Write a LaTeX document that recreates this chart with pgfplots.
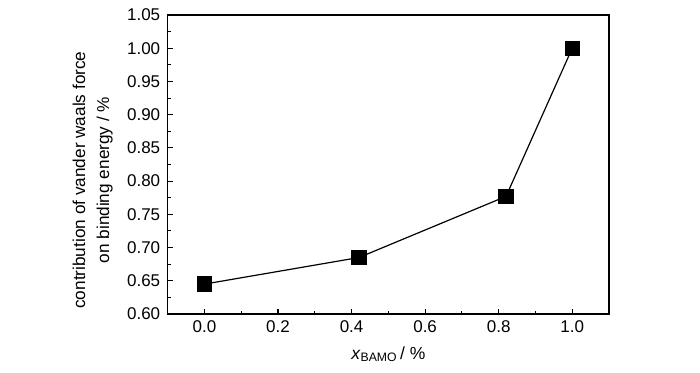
\documentclass[border=0pt]{standalone}
\usepackage{fontspec}
\setmainfont{Liberation Sans}
\usepackage{pgfplots}
\pgfplotsset{compat=1.18}
\begin{document}
\begin{tikzpicture}
\path[use as bounding box] (-167.7bp,-59bp) rectangle (532.3bp,314bp);
\begin{axis}[
  scale only axis,
  width=441.3bp, height=299bp,
  xmin=-0.1, xmax=1.1,
  ymin=0.60, ymax=1.05,
  xtick={0,0.2,0.4,0.6,0.8,1.0},
  ytick={0.60,0.65,0.70,0.75,0.80,0.85,0.90,0.95,1.00,1.05},
  minor x tick num=1,
  minor y tick num=1,
  xtick pos=bottom, ytick pos=left,
  tick align=inside,
  major tick length=5bp,
  minor tick length=3bp,
  axis line style={line width=1.4bp},
  tick style={line width=1.1bp, black},
  /pgf/number format/assume math mode=true,
  xticklabel style={/pgf/number format/fixed, /pgf/number format/fixed zerofill, /pgf/number format/precision=1, font=\fontsize{17bp}{20bp}\selectfont, yshift=-3bp},
  yticklabel style={/pgf/number format/fixed, /pgf/number format/fixed zerofill, /pgf/number format/precision=2, font=\fontsize{17bp}{20bp}\selectfont, xshift=-4bp},
  xlabel={\fontsize{17.5bp}{20bp}\selectfont\textit{x}\textsubscript{BAMO}\,/ \%},
  xlabel style={at={(axis description cs:0.5,0)}, anchor=base, yshift=-45bp},
  ylabel={contribution of vander waals force\\on binding energy / \%},
  ylabel style={align=center, font=\fontsize{17.2bp}{24bp}\selectfont, at={(axis description cs:-0.17,0.448)}, anchor=center, rotate=0},
]
\addplot[black, line width=1.2bp, mark=square*, mark size=7bp, mark options={solid, fill=black}]
  coordinates {(0.0,0.645) (0.42,0.685) (0.82,0.777) (1.0,1.0)};
\end{axis}
\end{tikzpicture}
\end{document}
